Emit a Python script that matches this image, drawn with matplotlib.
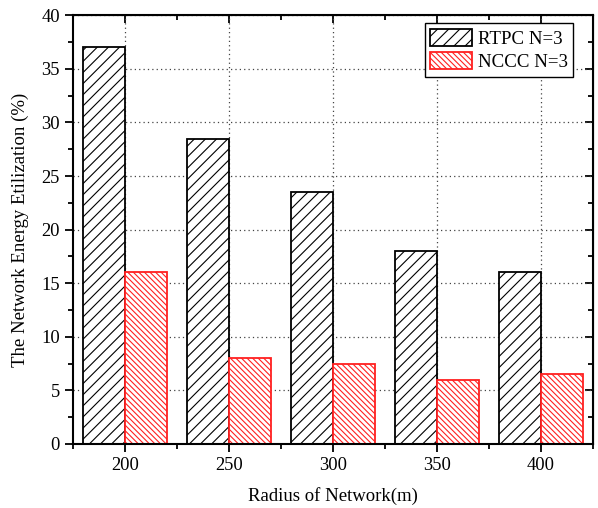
import matplotlib
matplotlib.use("Agg")
import matplotlib.pyplot as plt
from matplotlib.ticker import MultipleLocator
import numpy as np

radius = [200, 250, 300, 350, 400]
rtpc = [37, 28.5, 23.5, 18, 16]
nccc = [16, 8, 7.5, 6, 6.5]
series_labels = ["RTPC N=3", "NCCC N=3"]

plt.rcParams['font.family'] = ['Liberation Serif', 'DejaVu Serif']
plt.rcParams['hatch.linewidth'] = 0.8

fig = plt.figure(figsize=(5.98, 5.08), dpi=100)
ax = fig.add_axes([0.122, 0.126, 0.8696, 0.844])

x = np.array(radius, dtype=float)
w = 20
ax.bar(x - w/2, rtpc, width=w, facecolor='white', edgecolor='black', hatch='///',
       linewidth=1.3, label=series_labels[0], zorder=2)
ax.bar(x + w/2, nccc, width=w, facecolor='white', edgecolor='#ff2020', hatch='\\' * 6,
       linewidth=1.3, label=series_labels[1], zorder=2)

ax.set_xlim(175, 425)
ax.set_ylim(0, 40)
ax.set_xticks(radius)
ax.xaxis.set_minor_locator(MultipleLocator(25))
ax.yaxis.set_major_locator(MultipleLocator(5))
ax.yaxis.set_minor_locator(MultipleLocator(2.5))

ax.grid(True, which='major', linestyle=(0, (1, 2.5)), color='#444444', linewidth=0.9, zorder=0)
ax.set_axisbelow(True)

for s in ax.spines.values():
    s.set_linewidth(1.5)

ax.tick_params(which='major', direction='out', length=6, width=1.3, labelsize=13.3,
               top=False, right=False)
ax.tick_params(which='minor', direction='out', length=3.5, width=1.3, top=False, right=False)

# inward ticks on top and right
axt = ax.secondary_xaxis('top')
axt.set_xticks(radius)
axt.xaxis.set_minor_locator(MultipleLocator(25))
axt.tick_params(which='major', direction='in', length=6, width=1.3, labeltop=False)
axt.tick_params(which='minor', direction='in', length=3.5, width=1.3)
axt.set_xticklabels([])
axr = ax.secondary_yaxis('right')
axr.yaxis.set_major_locator(MultipleLocator(5))
axr.yaxis.set_minor_locator(MultipleLocator(2.5))
axr.tick_params(which='major', direction='in', length=6, width=1.3)
axr.tick_params(which='minor', direction='in', length=3.5, width=1.3)
axr.set_yticklabels([])

ax.set_xlabel("Radius of Network(m)", fontsize=13.5, labelpad=9)
ax.set_ylabel("The Network Energy Etilization (%)", fontsize=13.5, labelpad=9)

leg = ax.legend(loc='upper right', fontsize=13.6, fancybox=False, edgecolor='black',
                framealpha=1, handlelength=2.2, handleheight=1.0, borderpad=0.3,
                labelspacing=0.25, handletextpad=0.3, borderaxespad=0.0,
                bbox_to_anchor=(0.962, 0.982))
leg.get_frame().set_linewidth(1.0)

fig.savefig("out.png", dpi=100)
